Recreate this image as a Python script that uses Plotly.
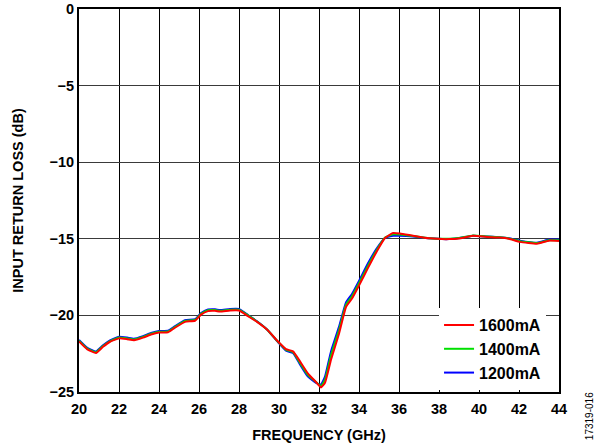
import plotly.graph_objects as go

freq = [20.0, 20.4, 20.85, 21.2, 21.55, 22.0, 22.4, 22.75, 23.2, 23.6, 24.0, 24.45, 24.8, 25.3, 25.8,
        26.1, 26.45, 26.8, 27.05, 27.55, 28.0, 28.45, 28.9, 29.4, 29.95, 30.35, 30.7, 31.05, 31.45,
        31.85, 32.1, 32.3, 32.6, 33.0, 33.35, 33.65, 34.0, 34.45, 34.9, 35.3, 35.7, 36.05, 36.7,
        37.5, 38.5, 39.0, 39.7, 40.4, 41.0, 41.5, 42.05, 42.9, 43.5, 44.0]

rl_1600 = [-21.7, -22.2, -22.45, -22.05, -21.72, -21.5, -21.55, -21.62, -21.45, -21.25, -21.12, -21.1,
           -20.8, -20.42, -20.35, -19.95, -19.72, -19.7, -19.75, -19.68, -19.68, -20.05, -20.42, -20.92,
           -21.7, -22.2, -22.35, -23.0, -23.8, -24.35, -24.7, -24.4, -22.9, -21.2, -19.45, -18.9, -18.05,
           -16.9, -15.8, -14.95, -14.62, -14.65, -14.8, -14.97, -15.02, -14.98, -14.8, -14.88, -14.92,
           -15.0, -15.2, -15.32, -15.12, -15.15]

rl_1400 = [-21.65, -22.15, -22.4, -22.0, -21.68, -21.45, -21.5, -21.57, -21.4, -21.2, -21.07, -21.05,
           -20.75, -20.37, -20.3, -19.9, -19.67, -19.65, -19.7, -19.63, -19.63, -20.0, -20.4, -20.92,
           -21.72, -22.25, -22.4, -23.1, -23.9, -24.35, -24.6, -24.2, -22.6, -20.95, -19.3, -18.75, -17.9,
           -16.75, -15.7, -14.92, -14.7, -14.72, -14.82, -14.96, -15.0, -14.95, -14.78, -14.85, -14.9,
           -14.98, -15.16, -15.28, -15.1, -15.1]

rl_1200 = [-21.6, -22.1, -22.35, -21.95, -21.63, -21.4, -21.45, -21.52, -21.35, -21.15, -21.02, -21.0,
           -20.7, -20.32, -20.25, -19.85, -19.62, -19.6, -19.65, -19.58, -19.58, -19.98, -20.38, -20.92,
           -21.75, -22.3, -22.45, -23.2, -24.0, -24.4, -24.5, -24.0, -22.35, -20.75, -19.15, -18.6, -17.75,
           -16.6, -15.6, -14.95, -14.8, -14.8, -14.85, -14.97, -15.02, -14.95, -14.8, -14.85, -14.9,
           -14.97, -15.12, -15.25, -15.05, -15.05]

series = [("1200mA", rl_1200, "#0000ff"),
          ("1400mA", rl_1400, "#00e000"),
          ("1600mA", rl_1600, "#ff0000")]

x_ticks = list(range(20, 45, 2))
y_ticks = [0, -5, -10, -15, -20, -25]
y_labels = ["0", "\u22125", "\u221210", "\u221215", "\u221220", "\u221225"]

FONT = "Liberation Sans, Arial, sans-serif"
TICKF = dict(family=FONT, size=14.5, color="black", weight="bold")
TITLEF = dict(family=FONT, size=14.5, color="black", weight="bold")

fig = go.Figure()
for name, vals, col in series:
    fig.add_trace(go.Scatter(x=freq, y=vals, mode="lines", name=name,
                             line=dict(color=col, width=2, shape="spline", smoothing=0.4)))

fig.update_layout(
    width=599, height=448,
    margin=dict(l=79, r=40, t=9, b=56, autoexpand=False),
    paper_bgcolor="white", plot_bgcolor="white",
    font=dict(family=FONT, size=12, color="black", weight="bold"),
    showlegend=True,
    legend=dict(x=0.973, y=0.005, xanchor="right", yanchor="bottom",
                traceorder="reversed", bgcolor="white", borderwidth=0,
                font=dict(family=FONT, size=16, color="black", weight="bold"),
                itemwidth=30, tracegroupgap=0),
    xaxis=dict(range=[20, 44], tickvals=x_ticks, ticks="", showgrid=True,
               gridcolor="black", gridwidth=1, showline=True, linecolor="black",
               linewidth=2, mirror=True, zeroline=False, automargin=False,
               tickfont=TICKF, ticklabelstandoff=3,
               title=dict(text="FREQUENCY (GHz)", standoff=13, font=TITLEF)),
    yaxis=dict(range=[-25, 0], tickvals=y_ticks, ticktext=y_labels, ticks="",
               showgrid=True, gridcolor="#3a3a3a", gridwidth=1, showline=True,
               linecolor="black", linewidth=2, mirror=True, zeroline=False,
               automargin=False, tickfont=TICKF,
               title=dict(text="INPUT RETURN LOSS (dB)", standoff=22, font=TITLEF)),
    annotations=[dict(text="17319-016", xref="paper", yref="paper",
                      x=1.0, y=-0.063, xanchor="center", yanchor="middle",
                      xshift=30, textangle=-90, showarrow=False,
                      font=dict(family=FONT, size=10, color="black", weight="normal"))],
)

fig.write_html("out.html", config={"displayModeBar": False},
               post_script="document.body.style.margin='0';")
